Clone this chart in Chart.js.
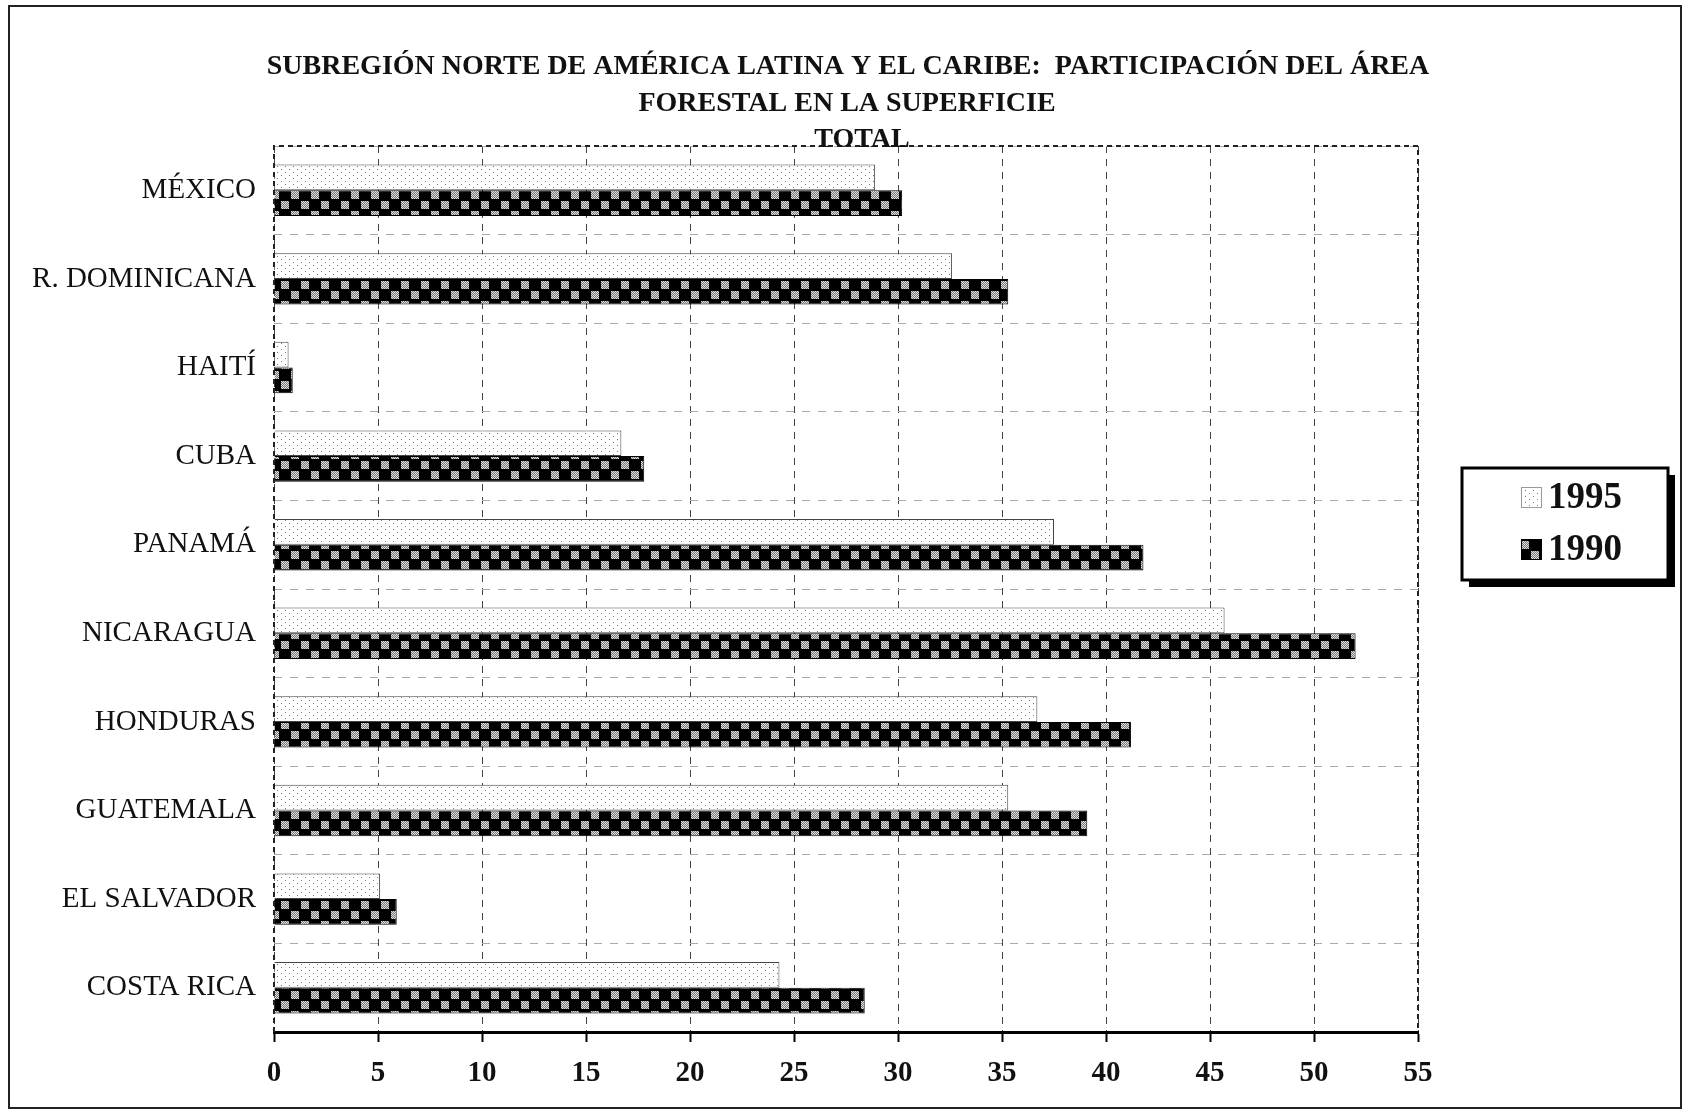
<!DOCTYPE html>
<html>
<head>
<meta charset="utf-8">
<script src="https://cdn.jsdelivr.net/npm/chart.js@4"></script>
<style>
  body { margin: 0; background: #fff; }
  canvas { display: block; }
</style>
</head>
<body>
<canvas id="chart" width="1686" height="1112"></canvas>
<script>
const countries = ['MÉXICO', 'R. DOMINICANA', 'HAITÍ', 'CUBA', 'PANAMÁ', 'NICARAGUA', 'HONDURAS', 'GUATEMALA', 'EL SALVADOR', 'COSTA RICA'];
const values1995 = [28.9, 32.6, 0.7, 16.7, 37.5, 45.7, 36.7, 35.3, 5.1, 24.3];
const values1990 = [30.2, 35.3, 0.9, 17.8, 41.8, 52.0, 41.2, 39.1, 5.9, 28.4];
const seriesNames = ['1995', '1990'];
const titleLines = ['SUBREGIÓN NORTE DE AMÉRICA LATINA Y EL CARIBE:  PARTICIPACIÓN DEL ÁREA', 'FORESTAL EN LA SUPERFICIE', 'TOTAL'];

const SERIF = '"Liberation Serif", "Times New Roman", serif';

// light dotted fill (1995)
function dotPattern(ctx) {
    const c = document.createElement('canvas');
    c.width = 8; c.height = 6;
    const g = c.getContext('2d');
    g.fillStyle = '#fff';
    g.fillRect(0, 0, 8, 6);
    g.fillStyle = '#777';
    g.fillRect(1, 1, 1, 1);
    g.fillRect(5, 4, 1, 1);
    return ctx.createPattern(c, 'repeat');
}

// black / grey checkerboard (1990)
function checkerPattern(ctx) {
    const c = document.createElement('canvas');
    c.width = 20; c.height = 20;
    const g = c.getContext('2d');
    g.fillStyle = '#000';
    g.fillRect(0, 0, 20, 20);
    [[1, 1], [11, 11]].forEach(([x0, y0]) => {
        for (let i = 0; i < 8; i++) {
            for (let j = 0; j < 8; j++) {
                g.fillStyle = (i + j) % 2 === 0 ? '#e0e0e0' : '#777';
                g.fillRect(x0 + i, y0 + j, 1, 1);
            }
        }
    });
    return ctx.createPattern(c, 'repeat');
}

const canvas = document.getElementById('chart');
const ctx0 = canvas.getContext('2d');
const fill1995 = dotPattern(ctx0);
const fill1990 = checkerPattern(ctx0);

const decorPlugin = {
    id: 'decor',
    afterDraw(chart) {
        const ctx = chart.ctx;
        const a = chart.chartArea;
        ctx.save();
        // dotted top, right and left borders of plot
        ctx.strokeStyle = '#222';
        ctx.lineWidth = 2;
        ctx.setLineDash([5, 4]);
        ctx.beginPath();
        ctx.moveTo(a.left, a.bottom);
        ctx.lineTo(a.left, a.top);
        ctx.lineTo(a.right, a.top);
        ctx.lineTo(a.right, a.bottom);
        ctx.stroke();
        ctx.setLineDash([]);

        // title
        ctx.fillStyle = '#111';
        ctx.font = 'bold 28px ' + SERIF;
        ctx.textAlign = 'center';
        ctx.textBaseline = 'middle';
        const ys = [67, 104, 140];
        const xs = [848, 847, 862];
        titleLines.forEach((t, i) => ctx.fillText(t, xs[i], ys[i]));

        // legend box with shadow
        const lx = 1462, ly = 468, lw = 206, lh = 112;
        ctx.fillStyle = '#000';
        ctx.fillRect(lx + 7, ly + 7, lw, lh);
        ctx.fillStyle = '#fff';
        ctx.fillRect(lx, ly, lw, lh);
        ctx.strokeStyle = '#000';
        ctx.lineWidth = 3;
        ctx.strokeRect(lx, ly, lw, lh);

        const fills = [fill1995, fill1990];
        const rowY = [497, 549];
        ctx.font = 'bold 37px ' + SERIF;
        ctx.textAlign = 'left';
        seriesNames.forEach((name, i) => {
            ctx.fillStyle = fills[i];
            ctx.fillRect(1521, rowY[i] - 10, 21, 21);
            ctx.strokeStyle = i === 0 ? '#999' : '#000';
            ctx.lineWidth = 1;
            ctx.strokeRect(1521.5, rowY[i] - 9.5, 20, 20);
            ctx.fillStyle = '#111';
            ctx.fillText(name, 1548, rowY[i] + 1);
        });

        // outer frame
        ctx.strokeStyle = '#222';
        ctx.lineWidth = 2;
        ctx.strokeRect(9, 6, 1672, 1102);
        ctx.restore();
    }
};

const data = {
    labels: countries,
    datasets: [
        {
            label: seriesNames[0],
            data: values1995,
            backgroundColor: fill1995,
            borderColor: '#444',
            borderWidth: 1,
            categoryPercentage: 0.58,
            barPercentage: 1.0
        },
        {
            label: seriesNames[1],
            data: values1990,
            backgroundColor: fill1990,
            borderColor: '#000',
            borderWidth: 1,
            categoryPercentage: 0.58,
            barPercentage: 1.0
        }
    ]
};

const config = {
    type: 'bar',
    data: data,
    options: {
        indexAxis: 'y',
        responsive: false,
        animation: false,
        layout: {
            padding: { left: 0, right: 268, top: 146, bottom: 0 }
        },
        plugins: {
            legend: { display: false },
            title: { display: false },
            tooltip: { enabled: false }
        },
        scales: {
            x: {
                min: 0,
                max: 55,
                ticks: {
                    stepSize: 5,
                    color: '#111',
                    padding: 14,
                    font: { family: SERIF, size: 29, weight: 'bold' }
                },
                grid: {
                    color: '#444',
                    lineWidth: 1,
                    tickLength: 10,
                    tickColor: '#000',
                    tickWidth: 2,
                    tickBorderDash: []
                },
                // in v4 border.dash sets the dash of the grid lines
                border: { display: true, color: '#000', width: 3, dash: [7, 6] },
                afterFit(scale) { scale.height = 80; }
            },
            y: {
                ticks: {
                    color: '#111',
                    padding: 18,
                    font: { family: SERIF, size: 29 }
                },
                grid: {
                    color: '#aaa',
                    lineWidth: 1,
                    drawTicks: false
                },
                border: { display: false, dash: [8, 8] },
                afterFit(scale) { scale.width = 274; }
            }
        }
    },
    plugins: [decorPlugin]
};

Chart.defaults.color = '#111';
const chart = new Chart(canvas, config);
</script>
</body>
</html>
